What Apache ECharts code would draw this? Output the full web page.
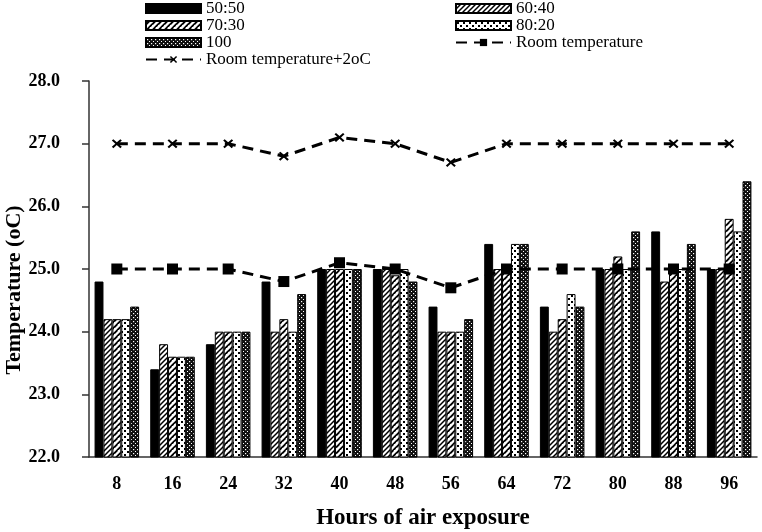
<!DOCTYPE html>
<html>
<head>
<meta charset="utf-8">
<title>Temperature</title>
<script src="https://cdn.jsdelivr.net/npm/echarts@6/dist/echarts.min.js"></script>
<style>
    html, body { margin: 0; padding: 0; background: #fff; }
    #chart { width: 762px; height: 532px; }
</style>
</head>
<body>
<div id="chart"></div>
<script>
// 数据
const hours = ['8', '16', '24', '32', '40', '48', '56', '64', '72', '80', '88', '96'];
const ratio5050 = [24.8, 23.4, 23.8, 24.8, 25.0, 25.0, 24.4, 25.4, 24.4, 25.0, 25.6, 25.0];
const ratio6040 = [24.2, 23.8, 24.0, 24.0, 25.0, 25.0, 24.0, 25.0, 24.0, 25.0, 24.8, 25.0];
const ratio7030 = [24.2, 23.6, 24.0, 24.2, 25.0, 24.9, 24.0, 25.0, 24.2, 25.2, 25.0, 25.8];
const ratio8020 = [24.2, 23.6, 24.0, 24.0, 25.0, 25.0, 24.0, 25.4, 24.6, 25.0, 25.0, 25.6];
const ratio100 = [24.4, 23.6, 24.0, 24.6, 25.0, 24.8, 24.2, 25.4, 24.4, 25.6, 25.4, 26.4];
const roomTemp = [25.0, 25.0, 25.0, 24.8, 25.1, 25.0, 24.7, 25.0, 25.0, 25.0, 25.0, 25.0];
const roomTempPlus2 = [27.0, 27.0, 27.0, 26.8, 27.1, 27.0, 26.7, 27.0, 27.0, 27.0, 27.0, 27.0];

// 填充图案
function pattern(size, bg, draw) {
    let c = document.createElement('canvas');
    c.width = size;
    c.height = size;
    let ctx = c.getContext('2d');
    ctx.fillStyle = bg;
    ctx.fillRect(0, 0, size, size);
    ctx.strokeStyle = '#000';
    ctx.fillStyle = '#000';
    draw(ctx, size);
    return { image: c, repeat: 'repeat' };
}

const hatch = pattern(5, '#fff', function (ctx, s) {
    ctx.lineWidth = 1.5;
    ctx.beginPath();
    ctx.moveTo(-1, s + 1); ctx.lineTo(s + 1, -1);
    ctx.moveTo(-1, 1); ctx.lineTo(1, -1);
    ctx.moveTo(s - 1, s + 1); ctx.lineTo(s + 1, s - 1);
    ctx.stroke();
});
const wave = pattern(6, '#fff', function (ctx) {
    ctx.lineWidth = 1.8;
    ctx.beginPath();
    ctx.moveTo(0, 3.5); ctx.lineTo(3.5, 0);
    ctx.moveTo(3, 6.5); ctx.lineTo(6.5, 3);
    ctx.stroke();
});
const dots = pattern(6, '#fff', function (ctx) {
    ctx.fillRect(1, 1, 2, 2);
    ctx.fillRect(4, 4, 2, 2);
});
const darkDots = pattern(4, '#111', function (ctx) {
    ctx.fillStyle = '#fff';
    ctx.fillRect(1, 1, 1.2, 1.2);
    ctx.fillRect(3, 3, 1, 1);
});

const xSymbol = 'path://M0,1.5L1.5,0L5,3.5L8.5,0L10,1.5L6.5,5L10,8.5L8.5,10L5,6.5L1.5,10L0,8.5L3.5,5Z';
const serif = '"Liberation Serif", "DejaVu Serif", serif';

function barSeries(name, data, fill) {
    return {
        name: name,
        type: 'bar',
        data: data,
        barGap: '0%',
        barCategoryGap: '20%',
        itemStyle: { color: fill, borderColor: '#000', borderWidth: 1 },
        emphasis: { disabled: true }
    };
}

function lineSeries(name, data, symbol, size) {
    return {
        name: name,
        type: 'line',
        data: data,
        z: 5,
        symbol: symbol,
        symbolSize: size,
        showAllSymbol: true,
        lineStyle: { color: '#000', width: 3, type: [11, 7] },
        itemStyle: { color: '#000' },
        emphasis: { disabled: true }
    };
}

let myChart = echarts.init(document.getElementById('chart'));
let legendText = { fontFamily: serif, fontSize: 17, color: '#000', lineHeight: 17 };
let option = {
    animation: false,
    backgroundColor: '#fff',
    legend: [
        {
            left: 145, top: 0, orient: 'vertical', padding: 0, itemGap: 0,
            itemWidth: 55, itemHeight: 9,
            textStyle: legendText,
            data: [
                { name: '50:50', icon: 'rect' },
                { name: '70:30', icon: 'rect' },
                { name: '100', icon: 'rect' },
                { name: 'Room temperature+2oC' }
            ]
        },
        {
            left: 455, top: 0, orient: 'vertical', padding: 0, itemGap: 0,
            itemWidth: 55, itemHeight: 9,
            textStyle: legendText,
            data: [
                { name: '60:40', icon: 'rect' },
                { name: '80:20', icon: 'rect' },
                { name: 'Room temperature' }
            ]
        }
    ],
    grid: { left: 89, right: 5, top: 81, bottom: 75, outerBoundsMode: 'none' },
    xAxis: {
        type: 'category',
        data: hours,
        name: 'Hours of air exposure',
        nameLocation: 'middle',
        nameGap: 50,
        nameMoveOverlap: false,
        nameTextStyle: { fontFamily: serif, fontSize: 23, fontWeight: 'bold', color: '#000' },
        axisLine: { lineStyle: { color: '#333', width: 1.5 } },
        axisTick: { length: 6, lineStyle: { color: '#333', width: 1.5 } },
        axisLabel: { fontFamily: serif, fontSize: 18, fontWeight: 'bold', color: '#000', margin: 18 }
    },
    yAxis: {
        type: 'value',
        min: 22,
        max: 28,
        interval: 1,
        name: 'Temperature (oC)',
        nameLocation: 'middle',
        nameGap: 64,
        nameMoveOverlap: false,
        nameTextStyle: {
            fontFamily: serif, fontSize: 22, fontWeight: 'bold', color: '#000',
            padding: [0, 42, 0, 0]
        },
        axisLine: { show: true, lineStyle: { color: '#333', width: 1.5 } },
        axisTick: { show: true, length: 7, lineStyle: { color: '#333', width: 1.5 } },
        splitLine: { show: false },
        axisLabel: {
            fontFamily: serif, fontSize: 18, fontWeight: 'bold', color: '#000', margin: 29,
            formatter: function (v) { return v.toFixed(1); }
        }
    },
    series: [
        barSeries('50:50', ratio5050, '#000'),
        barSeries('60:40', ratio6040, hatch),
        barSeries('70:30', ratio7030, wave),
        barSeries('80:20', ratio8020, dots),
        barSeries('100', ratio100, darkDots),
        lineSeries('Room temperature+2oC', roomTempPlus2, xSymbol, [10, 9]),
        lineSeries('Room temperature', roomTemp, 'rect', 11)
    ]
};
myChart.setOption(option);
</script>
</body>
</html>
